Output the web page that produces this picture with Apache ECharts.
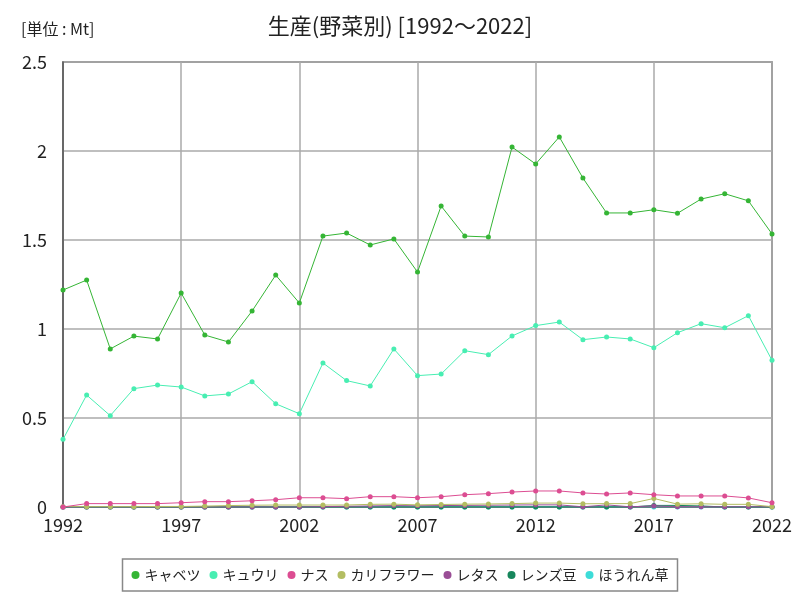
<!DOCTYPE html>
<html><head><meta charset="utf-8">
<script src="https://cdn.jsdelivr.net/npm/echarts@6/dist/echarts.min.js"></script>
<style>html,body{margin:0;padding:0;background:#fff}#c{width:800px;height:600px}</style>
</head><body><div id="c"></div>
<script>
const years = [];
for (let y = 1992; y <= 2022; y++) years.push(String(y));
const seriesNames = ['キャベツ','キュウリ','ナス','カリフラワー','レタス','レンズ豆','ほうれん草'];
const cabbage = [1.219,1.275,0.888,0.96,0.944,1.202,0.966,0.927,1.101,1.303,1.146,1.522,1.539,1.472,1.506,1.32,1.691,1.522,1.517,2.022,1.927,2.079,1.848,1.652,1.652,1.67,1.65,1.73,1.76,1.72,1.534];
const cucumber = [0.38,0.629,0.513,0.665,0.685,0.674,0.624,0.635,0.704,0.58,0.524,0.809,0.71,0.68,0.888,0.738,0.747,0.878,0.856,0.961,1.019,1.039,0.94,0.955,0.944,0.895,0.979,1.03,1.007,1.075,0.824];
const eggplant = [0.0,0.019,0.019,0.019,0.019,0.024,0.03,0.03,0.035,0.041,0.052,0.052,0.047,0.058,0.058,0.052,0.058,0.069,0.075,0.084,0.09,0.09,0.079,0.073,0.079,0.069,0.062,0.062,0.062,0.051,0.024];
const cauliflower = [0.002,0.002,0.002,0.002,0.003,0.003,0.005,0.008,0.01,0.011,0.011,0.011,0.011,0.015,0.016,0.012,0.014,0.016,0.017,0.019,0.022,0.022,0.018,0.019,0.019,0.048,0.016,0.018,0.015,0.015,0.002];
const lettuce = [0,0,0,0,0,0,0,0,0,0,0,0.002,0.004,0.006,0.008,0.007,0.008,0.009,0.01,0.011,0.012,0.012,0.001,0.012,0.001,0.006,0.002,0.001,0.001,0.001,0.001];
const lentil = [0,0,0,0,0,0,0,0,0,0,0,0,0,0,0,0,0,0,0,0,0,0,0,0,0,0.009,0.009,0.006,0,0,0];
const spinach = [0,0,0,0,0,0,0,0,0,0,0,0,0,0,0,0,0,0,0,0,0,0,0,0,0,0,0,0,0,0,0];
const colors = ['#35b535','#48eeb2','#dc4d92','#b3bd62','#9a4e96','#17865c','#3ddcd8'];
const yTicks = [0,0.5,1,1.5,2,2.5];
const allData = [cabbage,cucumber,eggplant,cauliflower,lettuce,lentil,spinach];

const font = '"Noto Sans CJK JP", sans-serif';
const chart = echarts.init(document.getElementById('c'));
chart.setOption({
  animation:false,
  color: colors,
  title: [
    {text:'生産(野菜別) [1992～2022]', left:'center', top:10, textStyle:{fontFamily:font, fontSize:22, fontWeight:'normal', color:'#222'}},
    {text:'[単位 : Mt]', left:16, top:16, textStyle:{fontFamily:font, fontSize:16, fontWeight:'normal', color:'#222'}}
  ],
  legend: {
    data: seriesNames, bottom:9, left:'center', icon:'circle', itemWidth:8, itemHeight:8, itemGap:9,
    borderColor:'#888', borderWidth:1.5, padding:[9,9],
    textStyle:{fontFamily:font, fontSize:14, color:'#222'}
  },
  grid: {left:63, right:28, top:62, bottom:93, show:true, borderColor:'#666', borderWidth:1.5},
  xAxis: {
    type:'category', data: years, boundaryGap:false,
    axisLine:{lineStyle:{color:'#555', width:1.5}},
    axisTick:{show:false},
    axisLabel:{interval:4, fontFamily:font, fontSize:18, color:'#222', margin:9},
    splitLine:{show:true, interval:4, lineStyle:{color:'#aaa', width:1.5}}
  },
  yAxis: {
    type:'value', min:yTicks[0], max:yTicks[yTicks.length-1], interval:0.5,
    axisLine:{show:true, lineStyle:{color:'#555', width:1.5}},
    axisTick:{show:false},
    axisLabel:{fontFamily:font, fontSize:18, color:'#222', margin:16},
    splitLine:{show:true, lineStyle:{color:'#aaa', width:1.5}}
  },
  series: seriesNames.map((n,i)=>({
    name:n, type:'line', data: allData[i], symbol:'circle', symbolSize:5,
    lineStyle:{width:1}, itemStyle:{color:colors[i]}, z: 10 - i
  }))
});
</script></body></html>
